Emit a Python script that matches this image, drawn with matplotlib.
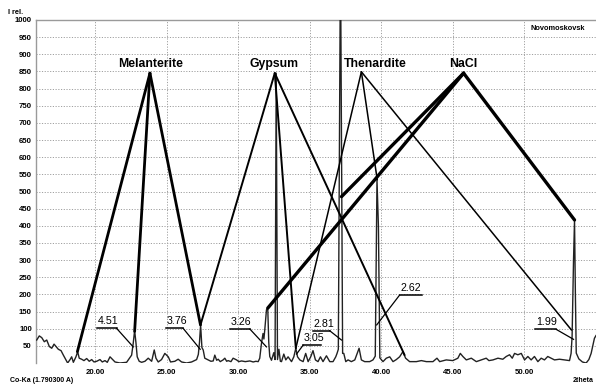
import matplotlib
matplotlib.use("Agg")
import matplotlib.pyplot as plt

plt.rcParams['font.family'] = ['Liberation Sans', 'DejaVu Sans']

# ---- diffraction pattern (2theta, I rel.) ----
two_theta = [15.93, 16.11, 16.28, 16.46, 16.63, 16.81, 16.98, 17.14, 17.28, 17.44, 17.63, 17.79,
             17.95, 18.09, 18.26, 18.37, 18.49, 18.67, 18.79, 18.90, 19.07, 19.23, 19.42, 19.60,
             19.77, 19.93, 20.12, 20.35, 20.51, 20.70, 20.86, 21.05, 21.24, 21.40, 21.74, 22.21,
             22.56, 22.67, 22.77, 22.86, 22.95, 23.09, 23.26, 23.49, 23.72, 23.96, 24.14, 24.26,
             24.42, 24.65, 24.88, 25.12, 25.28, 25.58, 25.81, 26.05, 26.40, 26.75, 27.10, 27.22,
             27.30, 27.38, 27.47, 27.56, 27.67, 27.91, 28.10, 28.26, 28.37, 28.50, 28.61, 28.75,
             28.95, 29.07, 29.20, 29.30, 29.50, 29.65, 29.89, 30.05, 30.24, 30.50, 30.82, 31.05,
             31.24, 31.40, 31.51, 31.63, 31.74, 31.80, 31.86, 31.98, 32.07, 32.14, 32.21, 32.33,
             32.49, 32.58, 32.66, 32.75, 32.85, 32.95, 33.03, 33.19, 33.33, 33.49, 33.73, 33.89,
             34.03, 34.15, 34.31, 34.54, 34.72, 34.89, 35.07, 35.23, 35.40, 35.58, 35.75, 35.93,
             36.17, 36.40, 36.63, 36.82, 36.91, 37.00, 37.15, 37.30, 37.38, 37.52, 37.68, 37.91,
             38.15, 38.45, 38.61, 38.84, 39.19, 39.42, 39.58, 39.70, 39.80, 39.90, 40.12, 40.35,
             40.59, 40.82, 41.05, 41.28, 41.51, 41.70, 41.98, 42.45, 42.80, 43.15, 43.61, 43.89,
             44.08, 44.54, 45.00, 45.35, 45.52, 45.70, 45.94, 46.29, 46.64, 46.98, 47.33, 47.52,
             47.80, 48.15, 48.49, 48.73, 48.96, 49.15, 49.31, 49.54, 49.78, 50.01, 50.24, 50.47,
             50.70, 50.94, 51.17, 51.40, 51.63, 51.87, 52.10, 52.45, 52.80, 53.15, 53.26, 53.33,
             53.43, 53.50, 53.56, 53.62, 53.80, 54.05, 54.31, 54.50, 54.66, 54.89, 55.00]
intensity = [67, 79, 74, 62, 67, 48, 43, 55, 48, 40, 36, 23,
             11, 0, 10, 18, 2, 18, 33, 14, 11, 7, 13, 5,
             10, 3, 5, 10, 3, 7, 2, 18, 10, 3, 0, 2,
             23, 57, 95, 60, 18, 5, 2, 5, 14, 5, 38, 14,
             3, 10, 28, 18, 3, 5, 11, 3, 0, 3, 10, 25,
             60, 111, 45, 38, 14, 9, 5, 6, 23, 8, 11, 4,
             9, 14, 5, 7, 4, 14, 9, 4, 6, 4, 6, 3,
             5, 4, 14, 57, 86, 70, 96, 155, 160, 60, 19, 8,
             30, 10, 845, 10, 40, 5, 4, 26, 9, 18, 4, 18,
             43, 18, 9, 4, 28, 4, 18, 36, 9, 4, 18, 4,
             21, 4, 4, 18, 28, 40, 1200, 28, 28, 4, 9, 4,
             9, 43, 9, 4, 4, 9, 20, 534, 400, 15, 4, 14,
             18, 4, 10, 18, 33, 14, 4, 4, 7, 4, 4, 14,
             4, 9, 7, 14, 28, 19, 9, 14, 4, 9, 14, 7,
             9, 14, 11, 19, 24, 14, 28, 24, 28, 9, 19, 9,
             19, 4, 14, 9, 19, 14, 9, 11, 9, 7, 28, 77,
             300, 417, 200, 29, 12, 3, 0, 10, 28, 72, 80]

# ---- phase labels and the peaks they point to ----
phases = ["Melanterite", "Gypsum", "Thenardite", "NaCl"]
apex_2theta = [23.84, 32.56, 38.61, 45.75]
apex_int = [845, 845, 849, 845]
label_2theta = [23.87, 32.54, 39.61, 45.72]
target_2theta = [[18.77, 22.77, 27.37],
                 [27.37, 34.03, 41.63],
                 [34.03, 39.72, 53.29],
                 [37.22, 32.07, 53.50]]
target_int = [[33, 92, 111],
              [111, 43, 23],
              [43, 534, 96],
              [485, 160, 417]]
phase_lw = [2.0, 1.4, 1.1, 2.4]

# ---- d-spacing labels (Angstrom) ----
d_labels = ["4.51", "3.76", "3.26", "3.05", "2.81", "2.62", "1.99"]
d_line_x0 = [20.12, 24.93, 29.42, 34.54, 35.23, 41.28, 50.77]
d_line_x1 = [21.51, 26.16, 30.82, 35.82, 36.40, 42.87, 52.22]
d_line_y = [101, 101, 99, 52, 94, 198, 98]
d_lead_from_left = [False, False, False, True, False, True, False]
d_lead_x = [22.67, 27.35, 31.98, 34.08, 37.22, 39.68, 53.43]
d_lead_y = [47, 40, 47, 26, 67, 111, 69]

yticks = list(range(50, 1001, 50))
xticks = [20, 25, 30, 35, 40, 45, 50]

W, H = 596, 385
fig = plt.figure(figsize=(W / 100, H / 100), dpi=100)
ax = fig.add_axes([36 / W, 1 - 363 / H, (W - 36) / W, (363 - 20) / H])
ax.set_xlim(15.88, 55.0)
ax.set_ylim(0, 1000)

for s in ['right', 'bottom']:
    ax.spines[s].set_visible(False)
for s in ['left', 'top']:
    ax.spines[s].set_color('#9a9a9a')
    ax.spines[s].set_linewidth(1.0)

ax.set_yticks(yticks)
ax.set_yticklabels([str(v) for v in yticks], fontsize=5.6, fontweight='bold')
ax.set_xticks(xticks)
ax.set_xticklabels(["%.2f" % v for v in xticks], fontsize=5.6, fontweight='bold')
ax.tick_params(axis='both', length=0, pad=3)
ax.tick_params(axis='x', pad=4)
ax.grid(True, color='#a0a0a0', linestyle=(0, (1.2, 1.6)), linewidth=0.7)
ax.set_axisbelow(True)

ax.plot(two_theta, intensity, color='#222222', linewidth=1.0, zorder=3)

for name, ax0, ay0, lx, tx, ty, lw in zip(phases, apex_2theta, apex_int, label_2theta,
                                          target_2theta, target_int, phase_lw):
    for x1, y1 in zip(tx, ty):
        ax.plot([ax0, x1], [ay0, y1], color='black', linewidth=lw,
                solid_capstyle='round', zorder=4)
    ax.text(lx, 862, name, ha='center', va='baseline', fontsize=8.8,
            fontweight='bold', zorder=5)

for lab, x0, x1, y, fl, lx, ly in zip(d_labels, d_line_x0, d_line_x1, d_line_y,
                                      d_lead_from_left, d_lead_x, d_lead_y):
    ax.plot([x0, x1], [y, y], color='black', linewidth=1.1, zorder=5)
    sx = x0 if fl else x1
    ax.plot([sx, lx], [y, ly], color='black', linewidth=0.9, zorder=5)
    ax.text(x0 + 0.05, y + 6, lab, ha='left', va='bottom', fontsize=7.7, zorder=5)

fig.text(8 / W, 1 - 13 / H, "I rel.", fontsize=5.3, fontweight='bold', va='center', ha='left')
fig.text(10 / W, 1 - 380 / H, "Co-Ka (1.790300 A)", fontsize=5.0, fontweight='bold',
         va='center', ha='left')
fig.text(594 / W, 1 - 380 / H, "2theta", fontsize=5.0, fontweight='bold', va='center', ha='right')
ax.text(0.883, 0.975, "Novomoskovsk", transform=ax.transAxes, fontsize=5.3,
        fontweight='bold', va='center', ha='left', zorder=6)

fig.savefig("out.png", dpi=100)
